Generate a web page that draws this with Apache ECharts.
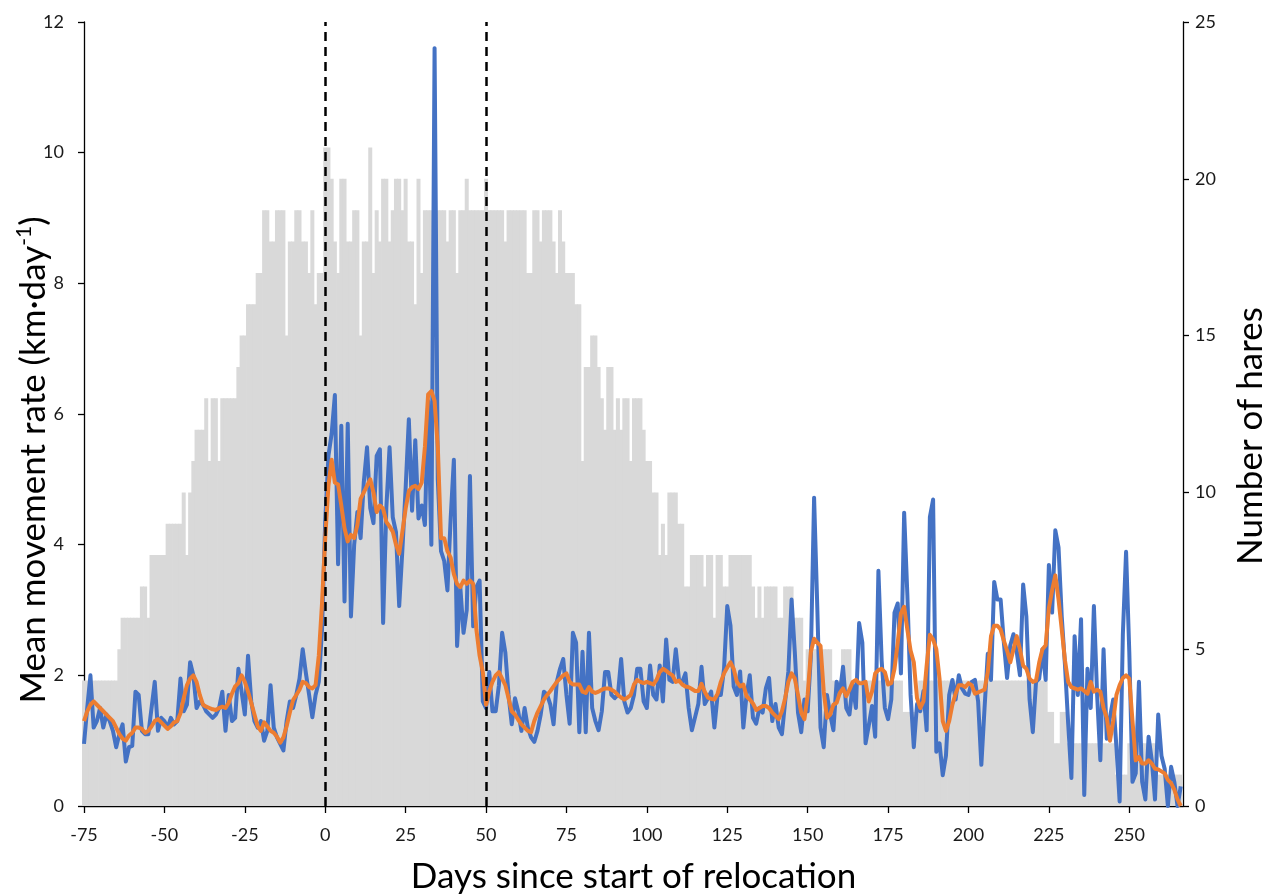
<!DOCTYPE html>
<html>
<head>
<meta charset="utf-8">
<script src="https://cdn.jsdelivr.net/npm/echarts@6/dist/echarts.min.js"></script>
<style>
html,body{margin:0;padding:0;background:#fff;}
#chart{width:1274px;height:896px;}
</style>
</head>
<body>
<div id="chart"></div>
<script>
// ---- data (one value per day, starting at firstDay) ----
const firstDay = -75;
const lastAxisDay = 266.7;

// number of hares tracked each day (right axis)
const hares = [
  4,4,4,4,4,4,4,4,4,4,4, 5, 6,6,6,6,6,6, 7,7, 6, 8,8,8,8,8, 9,9,9,9,9, 10,8,10,11,
  12,12,12, 13,11,13,13,11, 13,13,13,13,13, 14,15,15, 16,16,16, 17,17, 19,19, 18,18,
  19,19,19, 15, 18,18, 19,19, 18, 18,17,19,16,17,17,
  21,21,20,18,17,20,20,18,18,19,19,15,18,18,21,17,19,18,20,20,18,19,20,20,19,20,18,18,
  16,20,17,19,19,19,19,19,19,19,18,19,19,17,19,19,20,19,19,19,19,19,20,19,19,19,19,19,18,19,19,19,19,19,
  19,17,17,19,19,18,19,19,19,18,17,19,18,17,17,17,16,16,11,14,14,15,15,14,13,12,14,14,12,13,12,13,13,11,13,
  13,13,12,11,11,10,10,8,9,8,10,10,10,9,9,7,7,8,8,8,8,7,8,8,6,8,8,7,7,8,8,8,8,8,
  8,8,7,6,7,6,7,7,7,7,6,6,7,7,7,6,6,6,4,5,5,5,5,5,5,5,5,4,4,4,5,5,5,4,
  4,4,4,4,4,4,4,4,4,4,4,4,4,4,4, 3,3,3,3,3, 4,4,4,4,4,4,4,4,4,4,4,4,4,4,
  4,4,4,4,4,4,4,4,4,4,4,4,4,4,4,4,4,4,4,4,4,4,4,4,4,4, 3,3,2,2,3,3,2,2,
  2,2,2,2,2,2,2,2,2,2,2,2,2, 1,1,1,1, 2,2,2,2,2,2,2,2,2, 1,1,1,1,1,1,1,1
];

// daily mean movement rate, km/day (left axis)
const dailyRate = [
  0.95,1.5,2.0,1.2,1.3,1.5,1.2,1.4,1.3,1.15,0.9,1.1,1.25,0.68,0.9,0.92,1.75,1.7,1.15,1.1,
  1.1,1.5,1.9,1.15,1.35,1.3,1.2,1.35,1.25,1.3,1.95,1.45,1.55,2.2,2.0,
  1.5,1.6,1.55,1.45,1.4,1.35,1.4,1.5,1.75,1.15,1.7,1.3,1.35,2.1,1.75,1.4,2.3,1.6,1.3,1.2,
  1.3,1.0,1.15,1.85,1.2,1.05,0.95,0.85,1.3,1.6,1.5,1.7,1.95,2.4,
  2.03,1.7,1.36,1.7,1.9,2.7,
  4.36,5.36,5.7,6.29,3.7,5.82,3.13,5.85,2.9,4.0,4.5,4.1,4.96,5.49,4.56,4.33,5.36,5.46,2.8,4.56,
  5.49,4.42,4.19,3.06,3.93,4.86,5.92,4.52,
  5.6,4.4,4.6,4.3,6.2,4.0,11.6,5.0,3.9,3.75,3.3,4.4,5.3,2.45,3.35,2.65,3.0,5.05,2.75,3.35,
  3.45,1.6,1.5,2.05,1.45,1.45,1.85,2.65,2.35,1.7,1.25,1.65,1.45,1.15,
  1.5,1.2,1.05,0.98,1.15,1.4,1.75,1.7,1.55,1.25,1.9,2.1,2.25,1.7,1.26,2.65,2.5,1.13,2.36,1.13,
  2.65,1.5,1.3,1.16,1.45,2.05,2.05,1.7,1.65,1.7,2.25,1.6,1.43,1.5,1.7,
  2.1,2.1,1.6,1.5,2.15,1.7,1.63,2.15,1.6,2.55,1.93,1.9,2.4,1.93,1.9,2.03,1.5,1.16,1.36,1.56,
  2.13,1.56,1.65,1.75,1.2,1.7,1.7,2.1,3.06,2.76,1.83,1.7,2.06,1.2,
  1.7,2.0,1.35,1.26,1.5,1.43,1.8,1.96,1.3,1.56,1.2,1.1,1.6,2.06,3.16,2.36,1.43,1.13,1.63,1.45,
  2.3,4.72,3.03,1.2,0.9,1.7,1.4,1.16,1.9,1.73,2.13,1.5,1.4,1.86,
  1.5,2.8,2.5,0.96,1.23,1.53,1.06,3.6,2.23,1.5,1.33,1.63,2.96,3.1,2.03,4.49,3.23,1.7,0.9,1.56,
  1.45,1.76,1.16,4.42,4.69,0.83,0.96,0.47,0.77,1.7,1.93,1.63,2.0,1.8,
  1.72,1.7,1.9,1.93,1.6,0.63,1.5,2.33,1.93,3.43,3.16,3.16,2.5,1.96,2.46,2.63,2.36,2.0,3.39,2.9,
  1.63,1.13,1.9,1.95,2.4,1.93,3.69,2.96,4.22,3.96,2.9,2.16,1.26,0.43,
  2.6,1.7,2.86,0.17,2.1,1.5,3.06,1.7,0.7,2.4,1.03,1.36,1.63,0.9,0.07,2.63,3.89,2.36,0.37,0.5,
  1.9,0.37,0.1,1.06,0.7,0.1,1.4,0.77,0.57,0.0,0.6,0.37,0.0,0.3
];

// smoothed movement rate, km/day (left axis)
const smoothedRate = [
  1.3,1.45,1.55,1.6,1.55,1.5,1.45,1.4,1.35,1.3,1.2,1.1,1.03,1.0,1.08,1.12,1.2,1.2,1.18,1.12,
  1.15,1.22,1.3,1.33,1.28,1.23,1.18,1.22,1.28,1.3,1.42,1.65,1.85,1.95,
  2.0,1.9,1.7,1.55,1.52,1.5,1.48,1.47,1.5,1.52,1.5,1.58,1.72,1.83,1.88,2.0,1.9,1.75,1.58,1.4,
  1.22,1.15,1.28,1.22,1.15,1.12,1.06,0.97,1.05,1.22,1.43,1.62,1.7,1.78,1.9,
  1.88,1.82,1.8,1.85,2.3,3.1,
  4.1,4.9,5.3,4.95,4.92,4.6,4.25,4.05,4.15,4.1,4.3,4.7,4.8,4.9,5.0,4.8,4.5,4.6,4.55,4.35,
  4.28,4.2,4.0,3.86,4.2,4.55,4.82,4.88,
  4.9,4.85,4.95,5.5,6.3,6.35,6.2,5.5,4.1,4.1,3.9,3.8,3.55,3.4,3.35,3.45,3.4,3.45,3.4,2.7,
  2.3,2.05,1.55,1.75,1.9,2.0,2.05,1.95,1.85,1.65,1.45,1.4,1.32,1.25,
  1.2,1.15,1.13,1.3,1.43,1.53,1.63,1.7,1.76,1.83,1.9,1.95,2.0,2.03,1.9,1.86,1.86,1.86,1.75,1.73,
  1.82,1.75,1.73,1.75,1.78,1.8,1.8,1.78,1.75,1.7,1.66,1.63,1.66,1.7,1.86,
  1.93,1.9,1.88,1.9,1.88,1.86,1.93,2.05,2.1,2.07,2.03,2.0,1.9,1.92,1.86,1.83,1.82,1.79,1.76,1.76,
  1.87,1.75,1.66,1.64,1.63,1.72,1.9,2.03,2.12,2.2,2.1,1.9,1.83,1.86,
  1.68,1.63,1.57,1.47,1.5,1.53,1.53,1.5,1.43,1.38,1.33,1.45,1.65,1.9,2.03,1.95,1.7,1.43,1.33,1.7,
  2.36,2.56,2.5,2.45,1.75,1.35,1.4,1.55,1.58,1.73,1.8,1.68,1.78,1.9,
  1.93,1.88,1.88,1.9,1.6,1.75,2.03,2.08,2.1,2.05,1.86,1.88,2.1,2.5,2.95,3.05,2.7,2.38,2.2,1.65,
  1.5,1.6,2.15,2.62,2.55,2.4,1.95,1.3,1.15,1.3,1.55,1.72,1.85,1.85,
  1.82,1.88,1.85,1.72,1.74,1.76,1.78,2.05,2.6,2.76,2.76,2.7,2.53,2.38,2.2,2.4,2.6,2.4,2.15,2.1,
  1.95,1.9,1.92,2.2,2.4,2.46,3.03,3.3,3.53,3.16,2.7,2.23,1.9,1.82,
  1.8,1.78,1.8,1.76,1.72,1.9,1.75,1.78,1.75,1.5,1.35,1.0,1.3,1.7,1.85,1.96,2.0,1.95,1.3,0.7,
  0.75,0.65,0.65,0.7,0.65,0.57,0.56,0.53,0.5,0.4,0.35,0.25,0.1,0.0
];

const relocationMarks = [0, 50];               // dashed lines: start / end of relocation
const xTickLabels = [-75,-50,-25,0,25,50,75,100,125,150,175,200,225,250];
const leftTickLabels = [0,2,4,6,8,10,12];
const rightTickLabels = [0,5,10,15,20,25];

// ---- chart ----
const days = hares.map((_, i) => firstDay + i);
const pairs = arr => arr.map((v, i) => [days[i], v]);

const FONT = 'Lato';
const LABEL_COLOR = '#1a1a1a';
const chart = echarts.init(document.getElementById('chart'), null, {renderer: 'canvas'});

const axisCommon = {
  axisLine: {show: true, onZero: false, lineStyle: {color: '#000', width: 1.3}},
  axisTick: {show: true, inside: false, length: 6, lineStyle: {color: '#000', width: 1.3}},
  splitLine: {show: false},
  nameMoveOverlap: false
};

chart.setOption({
  animation: false,
  backgroundColor: '#ffffff',
  textStyle: {fontFamily: FONT},
  grid: {left: 84, right: 91, top: 22, bottom: 90, containLabel: false, outerBoundsMode: 'none'},
  xAxis: Object.assign({}, axisCommon, {
    type: 'value',
    min: xTickLabels[0],
    max: lastAxisDay,
    interval: 25,
    axisTick: {show: true, inside: false, length: 7, lineStyle: {color: '#000', width: 1.3}},
    axisLabel: {
      fontFamily: FONT, fontSize: 18, color: LABEL_COLOR, margin: 20,
      showMaxLabel: false,
      formatter: v => xTickLabels.indexOf(v) >= 0 ? String(v) : ''
    },
    name: 'Days since start of relocation',
    nameLocation: 'middle',
    nameGap: 53,
    nameTextStyle: {fontFamily: FONT, fontSize: 35, color: '#000'}
  }),
  yAxis: [
    Object.assign({}, axisCommon, {
      type: 'value', position: 'left',
      min: leftTickLabels[0], max: leftTickLabels[leftTickLabels.length - 1], interval: 2,
      axisLabel: {fontFamily: FONT, fontSize: 18, color: LABEL_COLOR, margin: 20},
      name: '{t|Mean movement rate (km·day}{s|-1}{t|)}',
      nameLocation: 'middle',
      nameRotate: 90,
      nameGap: 30,
      nameTextStyle: {
        fontFamily: FONT, color: '#000',
        padding: [0, 92, 0, 0],
        rich: {
          t: {fontFamily: FONT, fontSize: 35, color: '#000', lineHeight: 40},
          s: {fontFamily: FONT, fontSize: 21, color: '#000', verticalAlign: 'top', lineHeight: 22}
        }
      }
    }),
    Object.assign({}, axisCommon, {
      type: 'value', position: 'right',
      min: rightTickLabels[0], max: rightTickLabels[rightTickLabels.length - 1], interval: 5,
      axisLabel: {fontFamily: FONT, fontSize: 18, color: LABEL_COLOR, margin: 12},
      name: 'Number of hares',
      nameLocation: 'middle',
      nameRotate: 90,
      nameGap: 50,
      nameTextStyle: {fontFamily: FONT, fontSize: 35, color: '#000', padding: [0, 44, 0, 0]}
    })
  ],
  series: [
    {
      name: 'Number of hares',
      type: 'bar',
      yAxisIndex: 1,
      data: pairs(hares),
      barWidth: 4,
      itemStyle: {color: '#d9d9d9'},
      silent: true,
      z: 1
    },
    {
      name: 'Daily mean',
      type: 'line',
      yAxisIndex: 0,
      data: pairs(dailyRate),
      symbol: 'none',
      lineStyle: {color: '#4472c4', width: 4, join: 'round'},
      silent: true,
      z: 3
    },
    {
      name: 'Smoothed',
      type: 'line',
      yAxisIndex: 0,
      data: pairs(smoothedRate),
      symbol: 'none',
      lineStyle: {color: '#ed7d31', width: 4, join: 'round'},
      silent: true,
      z: 4,
      markLine: {
        silent: true,
        symbol: ['none', 'none'],
        label: {show: false},
        animation: false,
        lineStyle: {color: '#000', width: 2.5, type: [9, 6]},
        data: relocationMarks.map(d => ({xAxis: d}))
      }
    }
  ]
});
</script>
</body>
</html>
